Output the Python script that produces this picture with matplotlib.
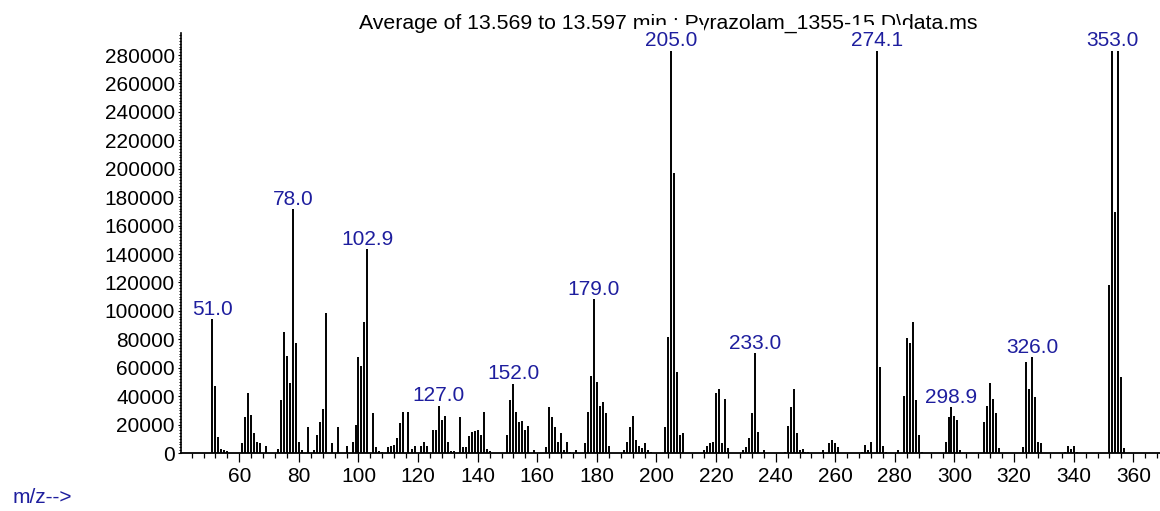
import matplotlib
matplotlib.use("Agg")
import matplotlib.pyplot as plt
from matplotlib.ticker import MultipleLocator, FixedLocator, FormatStrFormatter

# ---------------- data ----------------
mz = [51, 52, 53, 54, 55, 56, 61, 62, 63, 64, 65, 66, 67, 69, 73,
      74, 75, 76, 77, 78, 79, 80, 81, 83, 85, 86, 87, 88, 89, 91, 93,
      96, 98, 99, 100, 101, 102, 102.9, 105, 106, 107, 108, 110, 111, 112,
      113, 114, 115, 116.5, 118, 119, 121, 122, 123, 125, 126, 127, 128, 129,
      130, 131, 132, 134, 135, 136, 137, 138, 139, 140, 141, 142, 143, 144,
      150, 151, 152, 153, 154, 155, 156, 157, 159, 163, 164, 165, 166, 167,
      168, 169, 170, 171, 173, 176, 177, 178, 179, 180, 181, 182, 183, 184,
      189, 190, 191, 192, 193, 194, 195, 196, 197, 198, 203, 204, 205, 206,
      207, 208, 209, 216, 217, 218, 219, 220, 221, 222, 223, 224, 229, 230,
      231, 232, 233, 234, 236, 243, 244, 245, 246, 247, 248, 249, 250, 251,
      256, 258, 259, 260, 261, 269, 270, 271, 272, 274.1, 275, 276, 277, 281,
      283, 284, 285, 286, 287, 288, 289, 297, 298, 298.9, 300, 301, 302,
      310, 311, 312, 313, 314, 315, 323, 324, 325, 326, 327, 328, 329,
      337, 338, 339, 340, 341, 352, 353, 354, 355, 356, 357]
intensity = [94000, 47000, 11000, 2800, 2300, 1600, 6800, 25200, 42000, 26500, 13800, 8000, 7000, 5100, 2500,
             37300, 85300, 68500, 49000, 171600, 77200, 8000, 2300, 18000, 2300, 12700, 22000, 30700, 98300, 6800, 18000,
             5000, 8000, 19700, 67300, 61400, 92400, 143300, 27900, 4000, 1500, 500, 4000, 5000, 5500,
             10800, 20900, 29100, 29100, 3000, 5000, 4900, 8000, 4900, 16200, 16200, 33300, 23200, 26200,
             8000, 1500, 1500, 25000, 4500, 4000, 12000, 15000, 15500, 16000, 13000, 29100, 3000, 1500,
             12700, 37300, 48500, 29100, 22000, 22700, 16200, 19000, 2300, 4000, 32100, 25100, 18000, 8000,
             13800, 2300, 8000, 1000, 2300, 6800, 29100, 54400, 108100, 50200, 33300, 36100, 27900, 5100,
             2300, 8000, 18000, 25800, 9300, 5100, 3500, 6800, 2300, 1000, 18000, 81400, 283000, 197200,
             57200, 12700, 13800, 2300, 5100, 6800, 8000, 42000, 44800, 6800, 37800, 3500, 2300, 4000,
             10300, 27900, 70100, 15000, 2300, 1000, 19000, 32100, 44800, 13800, 2300, 3000, 1000, 1000,
             2300, 6800, 9300, 6800, 4000, 1000, 5500, 2300, 8000, 283000, 60300, 5100, 1000, 2300,
             40300, 81100, 77200, 92400, 37300, 12700, 1000, 8000, 25100, 32100, 25800, 23500, 2300,
             22000, 33300, 49000, 37800, 27900, 3500, 4000, 64300, 44800, 67300, 39100, 8000, 6800,
             1000, 5100, 3000, 5100, 1000, 118200, 283000, 169300, 283000, 53300, 3500]

peak_mz = [51, 78, 102.9, 127, 152, 179, 205, 233, 274.1, 298.9, 326, 353]
peak_labels = ["51.0", "78.0", "102.9", "127.0", "152.0", "179.0", "205.0",
               "233.0", "274.1", "298.9", "326.0", "353.0"]

x_ticks = [60, 80, 100, 120, 140, 160, 180, 200, 220, 240, 260, 280, 300, 320, 340, 360]
y_ticks = [0, 20000, 40000, 60000, 80000, 100000, 120000, 140000, 160000, 180000,
           200000, 220000, 240000, 260000, 280000]

title_text = "Average of 13.569 to 13.597 min.: Pyrazolam_1355-15.D\\data.ms"
x_label_text = "m/z-->"

# ---------------- figure ----------------
W, H = 1160, 511
FS = 15
BLUE = "#1e1e9e"
plt.rcParams['font.family'] = ['Liberation Sans', 'DejaVu Sans']

fig = plt.figure(figsize=(W / 100, H / 100), dpi=100)
fig.patch.set_facecolor("white")
left_px, right_px, top_px, bottom_px = 181, 1160, 33, 453
ax = fig.add_axes([left_px / W, (H - bottom_px) / H,
                   (right_px - left_px) / W, (bottom_px - top_px) / H])

ax.vlines(mz, 0, intensity, colors="black", linewidth=1.4, zorder=6)

ax.set_xlim(40.44, 368.96)
ax.set_ylim(0, 295500)

for s in ("top", "right"):
    ax.spines[s].set_visible(False)
ax.spines["left"].set_linewidth(1.2)
ax.spines["bottom"].set_linewidth(1.3)

ax.xaxis.set_major_locator(FixedLocator(x_ticks))
ax.xaxis.set_minor_locator(MultipleLocator(4))
ax.yaxis.set_major_locator(FixedLocator(y_ticks))
ax.yaxis.set_minor_locator(MultipleLocator(2000))
ax.yaxis.set_major_formatter(FormatStrFormatter("%d"))

ax.tick_params(axis="x", which="major", direction="out", length=6.5, width=0.9,
               pad=3.5, labelsize=FS, colors="black")
ax.tick_params(axis="x", which="minor", direction="out", length=3.6, width=0.9)
ax.tick_params(axis="y", which="major", direction="out", length=2.5, width=0.8,
               pad=2, labelsize=FS, colors="black")
ax.tick_params(axis="y", which="minor", direction="out", length=1.6, width=0.7)

# peak labels (their white boxes hide the lower edge of the title, as in the original)
lookup = dict(zip(mz, intensity))
for pm, lab in zip(peak_mz, peak_labels):
    ax.annotate(lab, (pm, lookup[pm]), xytext=(0, 3.3), textcoords="offset points",
                ha="center", va="baseline", fontsize=FS, color=BLUE, zorder=5,
                annotation_clip=False,
                bbox=dict(boxstyle="square,pad=0.3", facecolor="white", edgecolor="none"))

# title (drawn under the peak label boxes)
ax.text(668 / W, (H - 29) / H, title_text, transform=fig.transFigure,
        ha="center", va="baseline", fontsize=15.3, color="black", zorder=1, clip_on=False)

fig.text(13 / W, (H - 502.5) / H, x_label_text, ha="left", va="baseline",
         fontsize=FS, color=BLUE)

fig.savefig("out.png", dpi=100, facecolor="white")
